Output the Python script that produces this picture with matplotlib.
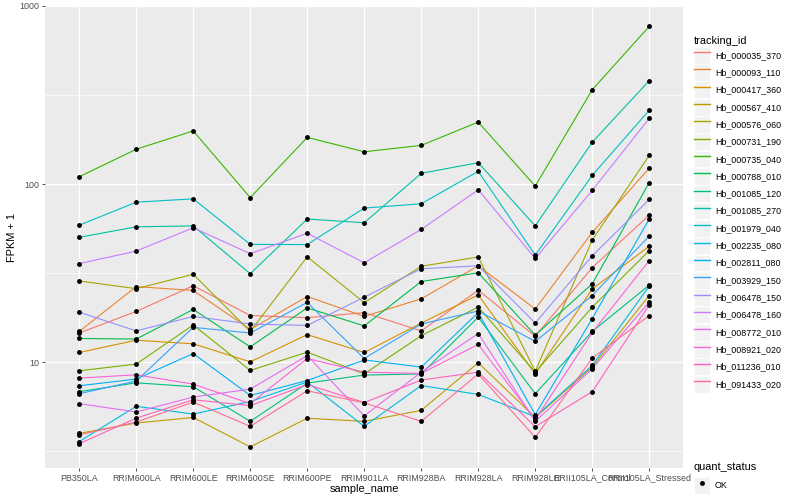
import matplotlib
matplotlib.use("Agg")
import matplotlib.pyplot as plt
from matplotlib.lines import Line2D
from matplotlib.patches import Rectangle
from matplotlib.legend_handler import HandlerLine2D

plt.rcParams['font.family'] = ['Liberation Sans', 'DejaVu Sans']

# === data ===
samples = ["PB350LA", "RRIM600LA", "RRIM600LE", "RRIM600SE", "RRIM600PE", "RRIM901LA",
           "RRIM928BA", "RRIM928LA", "RRIM928LE", "RRII105LA_Control", "RRII105LA_Stressed"]

tracking_ids = ["Hb_000035_370", "Hb_000093_110", "Hb_000417_360", "Hb_000567_410",
                "Hb_000576_060", "Hb_000731_190", "Hb_000735_040", "Hb_000788_010",
                "Hb_001085_120", "Hb_001085_270", "Hb_001979_040", "Hb_002235_080",
                "Hb_002811_080", "Hb_003929_150", "Hb_006478_150", "Hb_006478_160",
                "Hb_008772_010", "Hb_008921_020", "Hb_011236_010", "Hb_091433_020"]

# ggplot hue palette, 20 levels
colors = ["#F8766D", "#EA8331", "#D89000", "#C09B00", "#A3A500", "#7CAE00", "#39B600",
          "#00BB4E", "#00BF7D", "#00C1A3", "#00BFC4", "#00BAE0", "#00B0F6", "#35A2FF",
          "#9590FF", "#C77CFF", "#E76BF3", "#FA62DB", "#FF62BC", "#FF6C91"]

# FPKM + 1, one list per tracking_id (same order as samples)
fpkm = [
    [14.6, 19.3, 26.9, 18.3, 17.8, 19.0, 15.0, 25.4, 14.0, 34.0, 67.0],      # 000035_370
    [14.9, 26.6, 25.3, 15.3, 23.4, 18.1, 22.7, 34.8, 19.9, 53.6, 123.0],     # 000093_110
    [11.35, 13.3, 12.7, 10.06, 14.3, 11.35, 16.6, 23.9, 8.6, 25.8, 44.8],    # 000417_360
    [3.99, 4.56, 4.9, 3.35, 4.85, 4.66, 5.37, 9.94, 4.9, 9.4, 23.7],         # 000567_410
    [28.6, 25.9, 31.2, 14.9, 39.1, 21.6, 34.6, 39.0, 8.9, 48.6, 145.0],      # 000576_060
    [8.96, 9.77, 16.2, 9.0, 11.4, 8.6, 14.1, 20.4, 8.8, 20.4, 42.3],         # 000731_190
    [110.0, 157.0, 199.0, 84.0, 183.0, 152.0, 165.0, 223.0, 97.5, 339.0, 768.0],  # 000735_040
    [13.6, 13.5, 19.8, 12.2, 20.2, 16.0, 28.4, 31.8, 14.2, 27.6, 102.0],     # 000788_010
    [6.84, 7.67, 7.29, 4.66, 7.64, 8.48, 8.6, 17.9, 6.66, 14.9, 27.1],       # 001085_120
    [50.3, 57.6, 58.3, 31.4, 63.7, 60.7, 115.0, 132.0, 58.3, 172.0, 381.0],  # 001085_270
    [58.8, 79.2, 82.7, 45.9, 45.8, 73.4, 77.6, 118.0, 40.0, 112.0, 260.0],   # 001979_040
    [3.59, 5.66, 5.12, 6.02, 7.75, 4.37, 7.4, 6.6, 4.95, 9.6, 26.8],         # 002235_080
    [7.38, 8.05, 11.2, 6.51, 7.9, 10.3, 9.4, 19.0, 5.08, 17.6, 63.7],        # 002811_080
    [6.66, 7.85, 15.7, 14.6, 21.7, 10.5, 16.4, 19.4, 13.1, 23.7, 51.1],      # 003929_150
    [19.1, 15.0, 18.1, 16.4, 16.1, 23.2, 33.5, 34.8, 16.6, 39.6, 82.0],      # 006478_150
    [35.8, 42.1, 56.9, 40.7, 53.0, 36.2, 55.7, 92.9, 38.3, 92.2, 234.0],     # 006478_160
    [5.86, 5.26, 6.38, 7.07, 10.9, 5.0, 8.8, 14.5, 4.66, 9.2, 21.8],         # 008772_010
    [8.15, 8.51, 7.54, 5.86, 10.5, 8.8, 8.66, 12.6, 4.76, 14.7, 37.2],       # 008921_020
    [3.49, 4.86, 6.16, 5.71, 7.5, 5.94, 7.95, 8.8, 4.35, 6.84, 21.0],        # 011236_010
    [3.91, 4.62, 5.98, 4.37, 6.92, 5.92, 4.66, 8.6, 3.79, 10.55, 18.3],      # 091433_020
]

status_label = "OK"

# === plot ===
fig = plt.figure(figsize=(8, 5), dpi=100, facecolor="white")
ax = fig.add_axes([0.0563, 0.064, 0.798, 0.924])
ax.set_facecolor("#EBEBEB")

x = list(range(len(samples)))
for vals, col in zip(fpkm, colors):
    ax.plot(x, vals, color=col, linewidth=0.8, zorder=2)
for vals in fpkm:
    ax.plot(x, vals, linestyle="none", marker="o", markersize=2.5, color="black", zorder=3)

ax.set_yscale("log")
ax.set_ylim(2.55, 993)
ax.set_xlim(-0.6, len(samples) - 0.4)
ax.set_yticks([10, 100, 1000])
ax.set_yticklabels(["10", "100", "1000"])
ax.set_yticks([10 ** 0.5, 10 ** 1.5, 10 ** 2.5], minor=True)
ax.yaxis.set_minor_formatter(plt.NullFormatter())
ax.set_xticks(x)
ax.set_xticklabels(samples)

ax.grid(which="major", color="white", linewidth=1.0, zorder=0)
ax.grid(which="minor", axis="y", color="white", linewidth=0.5, zorder=0)
ax.set_axisbelow(True)
for s in ax.spines.values():
    s.set_visible(False)
ax.tick_params(which="major", length=2.5, width=0.6, color="#333333",
               labelsize=6.4, labelcolor="#4D4D4D", pad=1.5)
ax.tick_params(which="minor", length=0)

ax.set_xlabel("sample_name", fontsize=7.9, color="black", labelpad=1)
ax.set_ylabel("FPKM + 1", fontsize=7.9, color="black", labelpad=2)


# legend key: grey square behind the line / point, like ggplot
class KeyHandler(HandlerLine2D):
    def create_artists(self, legend, orig_handle, xdescent, ydescent, width, height, fontsize, trans):
        side = width
        rect = Rectangle((-xdescent, -ydescent + height / 2 - side / 2), side, side,
                         facecolor="#F2F2F2", edgecolor="white", linewidth=0.6,
                         transform=trans, zorder=0)
        arts = super().create_artists(legend, orig_handle, xdescent, ydescent, width, height, fontsize, trans)
        return [rect] + arts


handles = [Line2D([], [], color=c, linewidth=1.0) for c in colors]
leg1 = fig.legend(handles, tracking_ids, title="tracking_id", loc="upper left",
                  bbox_to_anchor=(0.867, 0.927), frameon=False, fontsize=6.4,
                  title_fontsize=7.9, handlelength=1.9, handleheight=2.62,
                  labelspacing=0.0, handletextpad=0.5, borderaxespad=0, borderpad=0,
                  handler_map={Line2D: KeyHandler()})
leg1._legend_box.align = "left"

h2 = [Line2D([], [], linestyle="none", marker="o", markersize=2.5, color="black")]
leg2 = fig.legend(h2, [status_label], title="quant_status", loc="upper left",
                  bbox_to_anchor=(0.867, 0.075), frameon=False, fontsize=6.4,
                  title_fontsize=7.9, handlelength=1.9, handleheight=2.62,
                  handletextpad=0.5, borderaxespad=0, borderpad=0,
                  handler_map={Line2D: KeyHandler()})
leg2._legend_box.align = "left"

fig.savefig("out.png", dpi=100, facecolor="white")
